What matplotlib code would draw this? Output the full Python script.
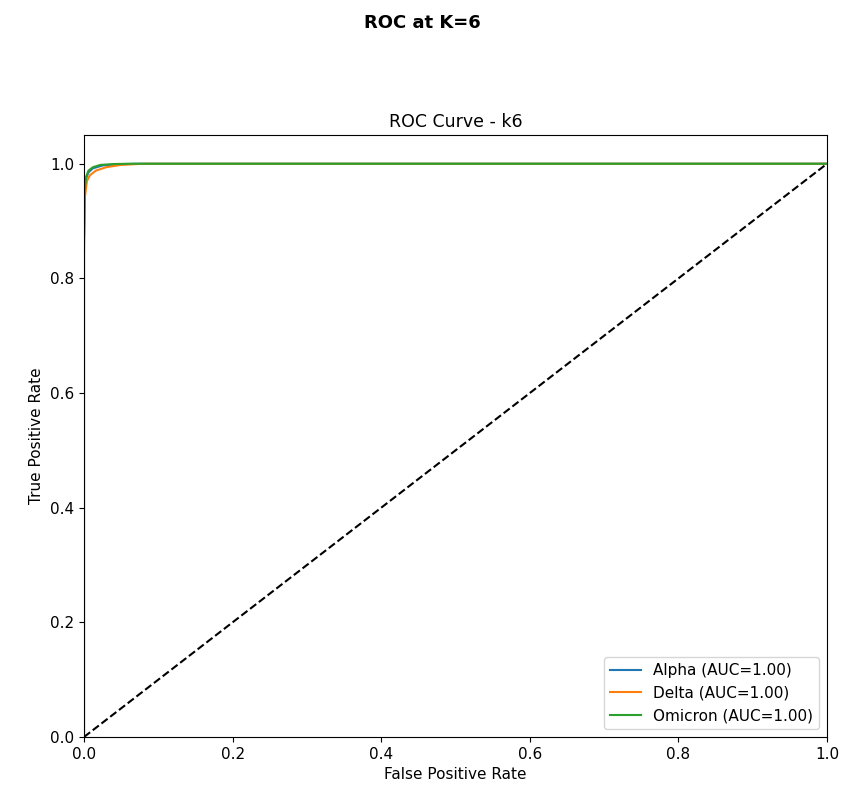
import matplotlib
matplotlib.use("Agg")
import matplotlib.pyplot as plt

classes = ["Alpha", "Delta", "Omicron"]
aucs = [1.00, 1.00, 1.00]

fpr_alpha = [0.0, 0.0, 0.001, 0.003, 0.006, 0.012, 0.025, 0.045, 0.07, 1.0]
tpr_alpha = [0.0, 0.86, 0.95, 0.975, 0.985, 0.992, 0.997, 0.999, 1.0, 1.0]

fpr_delta = [0.0, 0.0, 0.001, 0.004, 0.008, 0.016, 0.03, 0.05, 0.08, 1.0]
tpr_delta = [0.0, 0.84, 0.94, 0.97, 0.98, 0.988, 0.994, 0.998, 1.0, 1.0]

fpr_omicron = [0.0, 0.0, 0.001, 0.003, 0.006, 0.012, 0.022, 0.04, 0.06, 1.0]
tpr_omicron = [0.0, 0.87, 0.955, 0.978, 0.988, 0.994, 0.998, 0.9995, 1.0, 1.0]

curves = [(fpr_alpha, tpr_alpha), (fpr_delta, tpr_delta), (fpr_omicron, tpr_omicron)]

plt.rcParams["font.size"] = 11

fig = plt.figure(figsize=(8.45, 7.9), dpi=100)
ax = fig.add_axes([0.0994, 0.0671, 0.8793, 0.7619])

for name, auc, (fpr, tpr) in zip(classes, aucs, curves):
    ax.plot(fpr, tpr, label=f"{name} (AUC={auc:.2f})")

ax.plot([0, 1], [0, 1], "k--")
ax.set_xlim(0, 1)
ax.set_ylim(0, 1.05)
ax.set_xlabel("False Positive Rate")
ax.set_ylabel("True Positive Rate")
ax.set_title("ROC Curve - k6", fontsize=12.5)
ax.legend(loc="lower right")

fig.suptitle("ROC at K=6", fontweight="bold", fontsize=13, y=0.982)

fig.savefig("out.png", dpi=100)
